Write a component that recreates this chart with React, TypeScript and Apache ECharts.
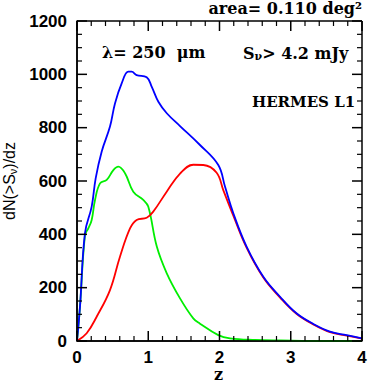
import React, { useEffect, useRef } from "react";
import * as echarts from "echarts";

const blueZ = [0, 0.042, 0.112, 0.206, 0.262, 0.346, 0.463, 0.533, 0.627, 0.72, 0.767, 0.837, 0.978, 1.048, 1.142, 1.26, 1.446, 1.726, 1.983, 2.077, 2.194, 2.38, 2.615, 2.85, 3.08, 3.317, 3.55, 3.785, 4.0];
const blueV = [0, 129, 405, 504, 610, 710, 804, 891, 966, 1010, 1010, 997, 989, 954, 897, 854, 806, 735, 660, 579, 479, 354, 241, 166, 104, 64, 35, 22, 10];

const redZ = [0, 0.136, 0.276, 0.463, 0.603, 0.744, 0.837, 0.978, 1.07, 1.259, 1.446, 1.632, 1.773, 1.96, 2.053, 2.194, 2.38, 2.615, 2.85, 3.08, 3.317, 3.55, 3.785, 4.0];
const redV = [0, 29, 91, 191, 316, 422, 454, 462, 485, 560, 628, 661, 660, 631, 566, 470, 350, 238, 163, 102, 62, 33, 20, 9];

const greenZ = [0, 0.042, 0.112, 0.159, 0.206, 0.253, 0.323, 0.417, 0.51, 0.58, 0.674, 0.79, 0.93, 1.0, 1.12, 1.26, 1.446, 1.632, 1.726, 1.983, 2.147, 2.5, 2.85, 3.5, 4.0];
const greenV = [0, 129, 397, 422, 454, 529, 591, 604, 641, 654, 629, 560, 529, 504, 354, 254, 160, 85, 65, 22, 10, 4, 2, 0, 0];

const yTicks = [0, 200, 400, 600, 800, 1000, 1200];
const xTicks = [0, 1, 2, 3, 4];
const xMinorSplit = 5;
const yMinorSplit = 4;

const pairs = (xs: number[], ys: number[]) => xs.map((x, i) => [x, ys[i]]);

export default function App() {
  const ref = useRef<HTMLDivElement>(null);
  useEffect(() => {
    if (!ref.current) return;
    const chart = echarts.init(ref.current, null, { renderer: "svg" });
    const sans = "Liberation Sans";
    const serif = "DejaVu Serif";
    const axisCommon: any = {
      axisLine: { show: true, onZero: false, lineStyle: { color: "#000", width: 1.5 } },
      axisTick: { show: false },
      minorTick: { show: false },
      splitLine: { show: false },
      minorSplitLine: { show: false },
    };
    const subRich = { s: { fontSize: 11, fontFamily: serif, fontWeight: "bold", color: "#000", verticalAlign: "bottom", lineHeight: 18 } };
    chart.setOption({
      animation: false,
      title: [
        { text: "area= 0.110 deg²", right: 20, top: 0, padding: 0, textStyle: { fontFamily: serif, fontSize: 16, fontWeight: "bold", color: "#000" } },
        { text: "λ= 250  μm", left: 102, top: 44, padding: 0, textStyle: { fontFamily: serif, fontSize: 16, fontWeight: "bold", color: "#000" } },
        { text: "S{s|ν}> 4.2 mJy", left: 243, top: 44, padding: 0, textStyle: { fontFamily: serif, fontSize: 16, fontWeight: "bold", color: "#000", rich: subRich } },
        { text: "HERMES L1", left: 252, top: 94, padding: 0, textStyle: { fontFamily: serif, fontSize: 15, fontWeight: "bold", color: "#000" } },
        { text: "z", left: 214, top: 366, padding: 0, textStyle: { fontFamily: serif, fontSize: 16, fontWeight: "bold", color: "#000" } },
      ],
      grid: { left: 77, right: 20, top: 21, bottom: 41, outerBoundsMode: "none", containLabel: false },
      xAxis: {
        type: "value",
        min: xTicks[0],
        max: xTicks[xTicks.length - 1],
        interval: 1,
        ...axisCommon,
        axisLabel: { show: true, color: "#000", fontSize: 17, fontFamily: sans, fontWeight: "bold", margin: 8, formatter: (v: number) => String(v) },
      },
      yAxis: {
        type: "value",
        min: yTicks[0],
        max: yTicks[yTicks.length - 1],
        interval: 200,
        ...axisCommon,
        axisLabel: { show: true, color: "#000", fontSize: 17, fontFamily: sans, fontWeight: "bold", margin: 10, formatter: (v: number) => String(v) },
        name: "dN(>S{s|ν})/dz",
        nameLocation: "middle",
        nameGap: 56,
        nameRotate: 90,
        nameTextStyle: {
          color: "#000",
          fontSize: 16,
          fontFamily: sans,
          rich: { s: { fontSize: 11, fontFamily: sans, color: "#000", verticalAlign: "bottom", lineHeight: 18 } },
        },
      },
      series: [
        { type: "line", data: pairs(greenZ, greenV), smooth: 0.4, showSymbol: false, lineStyle: { color: "#00ee00", width: 1.8 }, itemStyle: { color: "#00ee00" } },
        { type: "line", data: pairs(redZ, redV), smooth: 0.4, showSymbol: false, lineStyle: { color: "#ff0000", width: 1.8 }, itemStyle: { color: "#ff0000" } },
        { type: "line", data: pairs(blueZ, blueV), smooth: 0.4, showSymbol: false, lineStyle: { color: "#0000ff", width: 1.8 }, itemStyle: { color: "#0000ff" } },
      ],
    });

    // Frame and inward ticks on all four sides, positioned through the chart's own scales
    const p = (x: number, y: number) => chart.convertToPixel({ xAxisIndex: 0, yAxisIndex: 0 }, [x, y]) as number[];
    const x0 = xTicks[0];
    const x1 = xTicks[xTicks.length - 1];
    const y0 = yTicks[0];
    const y1 = yTicks[yTicks.length - 1];
    const [L, B] = p(x0, y0);
    const [R, T] = p(x1, y1);
    const els: any[] = [];
    const ln = (a: number, b: number, c: number, d: number, w = 1.5) =>
      els.push({ type: "line", silent: true, z: 100, shape: { x1: a, y1: b, x2: c, y2: d }, style: { stroke: "#000", lineWidth: w } });
    ln(L, T, R, T);
    ln(L, B, R, B);
    ln(L, T, L, B);
    ln(R, T, R, B);
    xTicks.forEach((t, i) => {
      const px = p(t, y0)[0];
      ln(px, B, px, B - 10);
      ln(px, T, px, T + 10);
      if (i < xTicks.length - 1) {
        for (let k = 1; k < xMinorSplit; k++) {
          const qx = p(t + ((xTicks[i + 1] - t) * k) / xMinorSplit, y0)[0];
          ln(qx, B, qx, B - 5, 1.2);
          ln(qx, T, qx, T + 5, 1.2);
        }
      }
    });
    yTicks.forEach((t, i) => {
      const py = p(x0, t)[1];
      ln(L, py, L + 10, py);
      ln(R, py, R - 10, py);
      if (i < yTicks.length - 1) {
        for (let k = 1; k < yMinorSplit; k++) {
          const qy = p(x0, t + ((yTicks[i + 1] - t) * k) / yMinorSplit)[1];
          ln(L, qy, L + 5, qy, 1.2);
          ln(R, qy, R - 5, qy, 1.2);
        }
      }
    });
    chart.setOption({ graphic: els });

    return () => chart.dispose();
  }, []);
  return <div ref={ref} style={{ position: "fixed", left: 0, top: 0, width: 382, height: 382, background: "#fff" }} />;
}
